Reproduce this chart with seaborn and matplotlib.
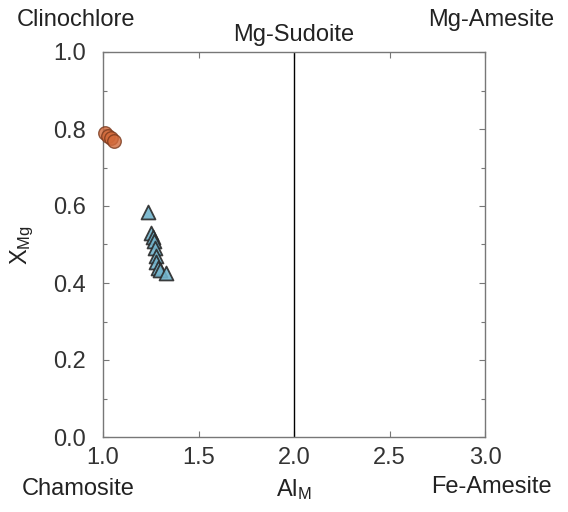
import pandas as pd
import seaborn as sns
import matplotlib.pyplot as plt
from matplotlib.ticker import MultipleLocator

# Chlorite compositions
circle_al = [1.01, 1.025, 1.04, 1.055]
circle_xmg = [0.79, 0.783, 0.776, 0.77]
tri_al = [1.235, 1.25, 1.26, 1.265, 1.27, 1.275, 1.28, 1.29, 1.30, 1.33]
tri_xmg = [0.585, 0.53, 0.52, 0.51, 0.49, 0.47, 0.455, 0.44, 0.435, 0.425]

xticks = [1.0, 1.5, 2.0, 2.5, 3.0]
yticks = [0.0, 0.2, 0.4, 0.6, 0.8, 1.0]

df = pd.concat([
    pd.DataFrame({'Al': circle_al, 'XMg': circle_xmg, 'group': 'A'}),
    pd.DataFrame({'Al': tri_al, 'XMg': tri_xmg, 'group': 'B'}),
])

sns.set_style("ticks")
plt.rcParams['font.family'] = ['Liberation Sans', 'DejaVu Sans']
plt.rcParams['mathtext.default'] = 'regular'

fig = plt.figure(figsize=(5.68, 5.12), dpi=100)
ax = fig.add_axes([103 / 568, (512 - 437) / 512, 382 / 568, 385 / 512])

ax.axvline(2.0, color='black', lw=1, zorder=1)

sns.scatterplot(data=df[df.group == 'A'], x='Al', y='XMg', ax=ax, marker='o',
                s=95, color='#d2693a', edgecolor='#7a3a1e', linewidth=1,
                alpha=0.8, zorder=3, legend=False, clip_on=False)
sns.scatterplot(data=df[df.group == 'B'], x='Al', y='XMg', ax=ax, marker='^',
                s=100, color='#72b4cc', edgecolor='#2a2a2a', linewidth=1.3,
                alpha=0.9, zorder=3, legend=False)

ax.set_xlim(1.0, 3.0)
ax.set_ylim(0.0, 1.0)
ax.set_xticks(xticks)
ax.set_yticks(yticks)
ax.set_xticklabels([f'{t:.1f}' for t in xticks])
ax.set_yticklabels([f'{t:.1f}' for t in yticks])
ax.yaxis.set_minor_locator(MultipleLocator(0.1))
ax.tick_params(which='both', direction='in', top=True, right=True,
               length=4, width=0.8, color='#777777', labelsize=17,
               labelcolor='#333333')
ax.tick_params(axis='x', pad=7)
ax.tick_params(axis='y', pad=12)
ax.tick_params(which='minor', length=3)
for sp in ax.spines.values():
    sp.set_color('#777777')
    sp.set_linewidth(1)

ax.set_xlabel('')
ax.set_ylabel('')

txt = dict(fontsize=17, color='#222222', ha='center', va='center')
fig.text(76 / 568, 1 - 20 / 512, 'Clinochlore', **txt)
fig.text(294 / 568, 1 - 35 / 512, 'Mg-Sudoite', **txt)
fig.text(491 / 568, 1 - 20 / 512, 'Mg-Amesite', **txt)
fig.text(78 / 568, 1 - 489 / 512, 'Chamosite', **txt)
fig.text(294 / 568, 1 - 490 / 512, r'Al$_{M}$', **txt)
fig.text(491 / 568, 1 - 487 / 512, 'Fe-Amesite', **txt)
fig.text(22 / 568, 1 - 245 / 512, r'X$_{Mg}$', rotation=90, **txt)

fig.savefig('out.png', dpi=100)
